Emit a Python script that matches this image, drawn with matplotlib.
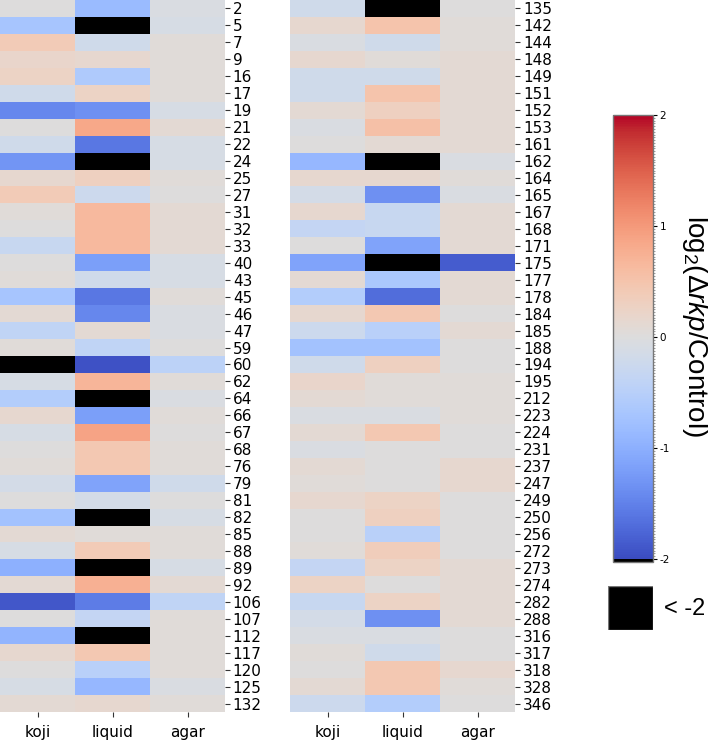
import numpy as np
import matplotlib
matplotlib.use("Agg")
import matplotlib.pyplot as plt
from matplotlib.patches import Rectangle

plt.rcParams["mathtext.fontset"] = "custom"
plt.rcParams["mathtext.rm"] = "Liberation Sans"
plt.rcParams["mathtext.it"] = "Liberation Sans:italic"

CONDITIONS = ["koji", "liquid", "agar"]
BLACK = -3.0  # stands for values below -2

# left block
ROWS_LEFT = [2, 5, 7, 9, 16, 17, 19, 21, 22, 24, 25, 27, 31, 32, 33, 40, 43,
             45, 46, 47, 59, 60, 62, 64, 66, 67, 68, 76, 79, 81, 82, 85, 88,
             89, 92, 106, 107, 112, 117, 120, 125, 132]
KOJI_LEFT = [0.0, -0.7, 0.4, 0.2, 0.25, -0.2, -1.45, 0.0, -0.2, -1.3, 0.15,
             0.4, 0.05, 0.0, -0.3, 0.0, 0.05, -0.7, 0.1, -0.4, 0.05, BLACK,
             -0.1, -0.55, 0.15, -0.1, 0.0, 0.05, -0.15, 0.0, -0.75, 0.1, -0.1,
             -1.0, 0.1, -1.9, 0.0, -0.95, 0.15, 0.0, -0.1, 0.1]
LIQUID_LEFT = [-0.85, BLACK, -0.2, 0.15, -0.6, 0.25, -1.35, 0.85, -1.6, BLACK,
               0.3, -0.25, 0.65, 0.65, 0.65, -1.2, -0.2, -1.6, -1.45, 0.1,
               -0.4, -1.95, 0.7, BLACK, -1.2, 0.9, 0.45, 0.45, -1.15, -0.15,
               BLACK, 0.05, 0.4, BLACK, 0.75, -1.55, -0.35, BLACK, 0.45, -0.5,
               -0.9, 0.15]
AGAR_LEFT = [-0.05, -0.1, 0.05, 0.05, 0.05, 0.05, -0.1, 0.1, -0.1, -0.1, 0.05,
             0.0, 0.1, 0.1, 0.1, -0.1, -0.1, 0.05, -0.05, -0.05, 0.0, -0.45,
             0.05, -0.05, 0.05, 0.0, 0.05, 0.05, -0.2, 0.0, -0.1, 0.05, 0.05,
             -0.1, 0.1, -0.4, 0.05, 0.05, 0.05, 0.05, -0.05, 0.05]

# right block
ROWS_RIGHT = [135, 142, 144, 148, 149, 151, 152, 153, 161, 162, 164, 165, 167,
              168, 171, 175, 177, 178, 184, 185, 188, 194, 195, 212, 223, 224,
              231, 237, 247, 249, 250, 256, 272, 273, 274, 282, 288, 316, 317,
              318, 328, 346]
KOJI_RIGHT = [-0.2, 0.15, -0.05, 0.15, -0.2, -0.2, 0.1, -0.05, 0.0, -0.9,
              0.15, -0.15, 0.15, -0.35, 0.0, -1.15, 0.1, -0.55, 0.15, -0.25,
              -0.75, -0.2, 0.2, 0.1, -0.05, 0.1, -0.05, 0.1, 0.05, 0.15, 0.0,
              0.0, 0.05, -0.35, 0.25, -0.3, -0.15, -0.05, 0.05, 0.0, 0.1, -0.25]
LIQUID_RIGHT = [BLACK, 0.5, -0.2, 0.05, -0.2, 0.5, 0.3, 0.55, 0.1, BLACK, 0.15,
                -1.35, -0.3, -0.3, -1.15, BLACK, -0.65, -1.7, 0.45, -0.5,
                -0.75, 0.3, 0.05, 0.05, -0.05, 0.45, 0.0, 0.0, 0.0, 0.25, 0.3,
                -0.5, 0.35, 0.25, 0.0, 0.25, -1.35, -0.05, -0.2, 0.45, 0.45,
                -0.55]
AGAR_RIGHT = [0.0, 0.05, 0.05, 0.1, 0.1, 0.1, 0.1, 0.1, 0.1, -0.05, 0.05,
              -0.05, 0.1, 0.1, 0.1, -1.85, 0.1, 0.1, 0.0, 0.1, 0.0, 0.0, 0.05,
              0.05, 0.05, 0.0, 0.0, 0.15, 0.15, 0.0, 0.0, 0.0, 0.0, 0.1, 0.1,
              0.1, 0.1, 0.0, 0.0, 0.15, 0.05, 0.0]

cmap = plt.get_cmap("coolwarm").copy()
cmap.set_under("black")

fig = plt.figure(figsize=(7.08, 7.43), dpi=100)
ax_l = fig.add_axes([0.0, 0.0417, 0.318, 0.9583])
ax_r = fig.add_axes([0.41, 0.0417, 0.318, 0.9583])

blocks = [
    (ax_l, ROWS_LEFT, [KOJI_LEFT, LIQUID_LEFT, AGAR_LEFT]),
    (ax_r, ROWS_RIGHT, [KOJI_RIGHT, LIQUID_RIGHT, AGAR_RIGHT]),
]
for ax, rows, cols in blocks:
    grid = np.array(cols).T
    mesh = ax.pcolormesh(grid, cmap=cmap, vmin=-2, vmax=2)
    ax.set_xlim(0, 3)
    ax.set_ylim(len(rows), 0)
    ax.set_xticks(np.arange(3) + 0.5)
    ax.set_xticklabels(CONDITIONS, fontsize=11)
    ax.set_yticks(np.arange(len(rows)) + 0.5)
    ax.set_yticklabels([str(r) for r in rows], fontsize=11)
    ax.yaxis.tick_right()
    ax.tick_params(axis="y", length=3.5, pad=2, color="#333333")
    ax.tick_params(axis="x", length=3.5, pad=6, color="#333333")
    for side in ax.spines.values():
        side.set_visible(False)

cax = fig.add_axes([0.866, 0.243, 0.0565, 0.602])
cb = fig.colorbar(mesh, cax=cax, extend="min", extendrect=True,
                  extendfrac=0.008)
cb.set_ticks([-2, -1, 0, 1, 2])
cb.set_ticklabels(["-2", "-1", "0", "1", "2"])
cb.ax.tick_params(labelsize=7.5, length=3, pad=1.5)
cb.ax.set_yticks(np.arange(-2, 2.001, 0.025), minor=True)
cb.ax.tick_params(which="minor", length=1.2, width=0.4, color="#555555")
cb.outline.set_edgecolor("#777777")
cb.outline.set_linewidth(1.0)
fig.text(0.981, 0.561, r"log$_2$(Δ$rkp$/Control)", rotation=270,
         fontsize=20, ha="center", va="center", family="Liberation Sans")

# black swatch for values below -2
sw = fig.add_axes([0.859, 0.152, 0.0636, 0.0592])
sw.add_patch(Rectangle((0, 0), 1, 1, facecolor="black", edgecolor="#777777",
                       linewidth=1.0))
sw.set_xlim(0, 1)
sw.set_ylim(0, 1)
sw.axis("off")
fig.text(0.938, 0.181, "< -2", fontsize=17, va="center", ha="left",
         family="Liberation Sans")

fig.savefig("out.png", dpi=100)
